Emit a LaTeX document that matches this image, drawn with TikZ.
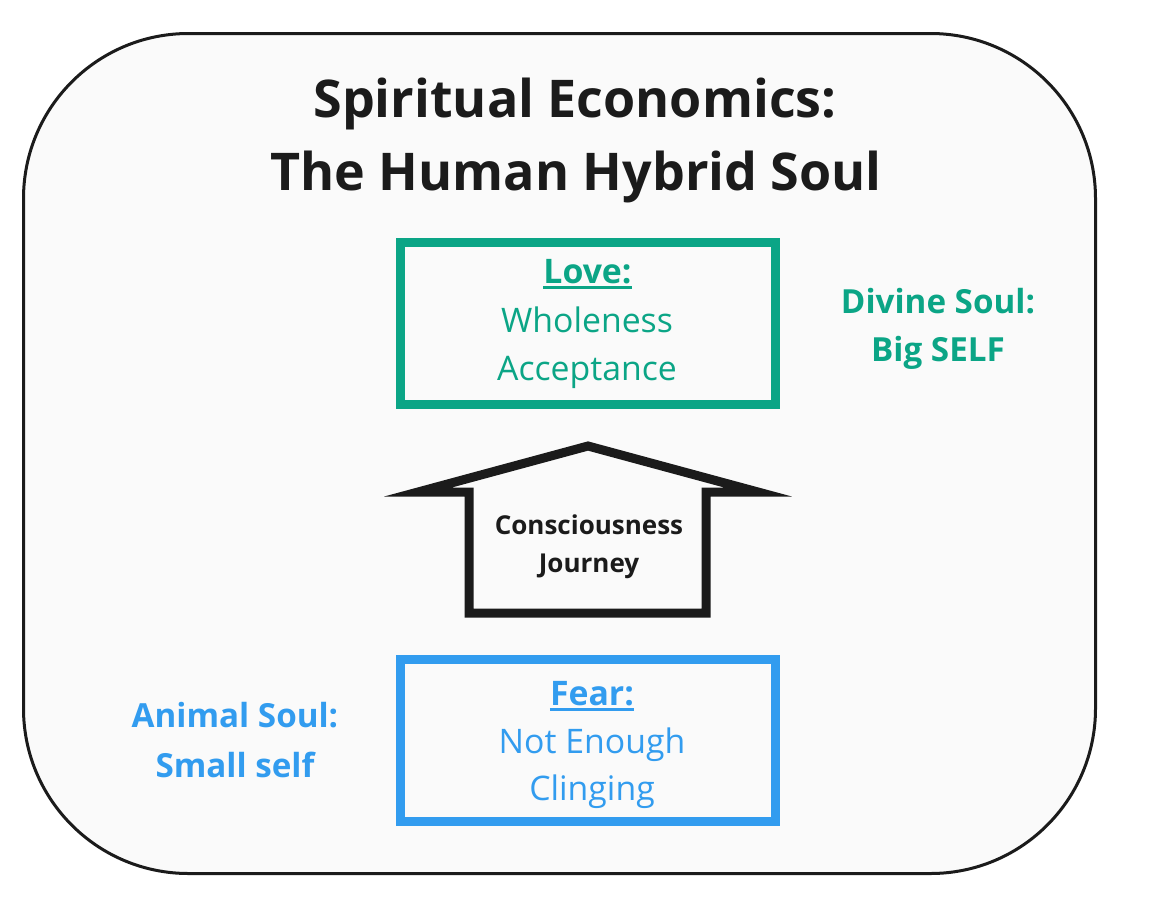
\documentclass[tikz,border=0pt]{standalone}
\usepackage{fontspec}
\setmainfont{Open Sans}
\definecolor{teal}{HTML}{0BA586}
\definecolor{skyblue}{HTML}{329CEF}
\definecolor{ink}{HTML}{1B1B1B}
\definecolor{panel}{HTML}{FAFAFA}
\begin{document}
\begin{tikzpicture}[x=1pt,y=-1pt,
  txt/.style={inner sep=0pt,anchor=base},
  titletxt/.style={txt,font=\fontsize{52}{60}\selectfont\bfseries,text=ink},
  boxtxt/.style={txt,font=\fontsize{33.8}{40}\selectfont},
  headtxt/.style={txt,font=\fontsize{33.8}{40}\selectfont\bfseries},
  sidetxt/.style={txt,font=\fontsize{33.2}{40}\selectfont\bfseries},
  arrtxt/.style={txt,font=\fontsize{26}{30}\selectfont\bfseries,text=ink},
  framebox/.style={draw,line width=9pt,minimum width=375pt,minimum height=162pt,inner sep=0pt},
  ul/.style={line width=2.5pt}]
\useasboundingbox (0,0) rectangle (1151,900);
\fill[white] (0,0) rectangle (1151,900);
% outer panel
\draw[ink,line width=3pt,fill=panel,rounded corners=165pt] (23.5,33.5) rectangle (1095.5,873.5);
% title
\node[titletxt] (t1) at (575,117) {Spiritual Economics:};
\node[titletxt] (t2) at (576,190) {The Human Hybrid Soul};
% love box
\node[framebox,draw=teal] (love) at (587.5,323.5) {};
\node[headtxt,text=teal] (lovet) at (587.5,283) {Love:};
\draw[teal,ul] ([yshift=-4.5pt]lovet.base west) -- ([yshift=-4.5pt]lovet.base east);
\node[boxtxt,text=teal] (l1) at (587,332) {Wholeness};
\node[boxtxt,text=teal] (l2) at (587,380) {Acceptance};
% divine soul
\node[sidetxt,text=teal] (d1) at (938,313) {Divine Soul:};
\node[sidetxt,text=teal] (d2) at (938,361) {Big SELF};
% arrow
\draw[ink,line width=9pt,miter limit=12]
  (588,446) -- (418,492) -- (469,492) -- (469,613) -- (706,613) -- (706,492) -- (758,492) -- cycle;
\node[arrtxt] (c1) at (589,534) {Consciousness};
\node[arrtxt] (c2) at (589,572) {Journey};
% fear box
\node[framebox,draw=skyblue] (fear) at (587.5,740.5) {};
\node[headtxt,text=skyblue] (feart) at (592,705) {Fear:};
\draw[skyblue,ul] ([yshift=-4.5pt]feart.base west) -- ([yshift=-4.5pt]feart.base east);
\node[boxtxt,text=skyblue] (f1) at (592,753) {Not Enough};
\node[boxtxt,text=skyblue] (f2) at (592,800) {Clinging};
% animal soul
\node[sidetxt,text=skyblue] (a1) at (235,727) {Animal Soul:};
\node[sidetxt,text=skyblue] (a2) at (235,777) {Small self};
\end{tikzpicture}
\end{document}
